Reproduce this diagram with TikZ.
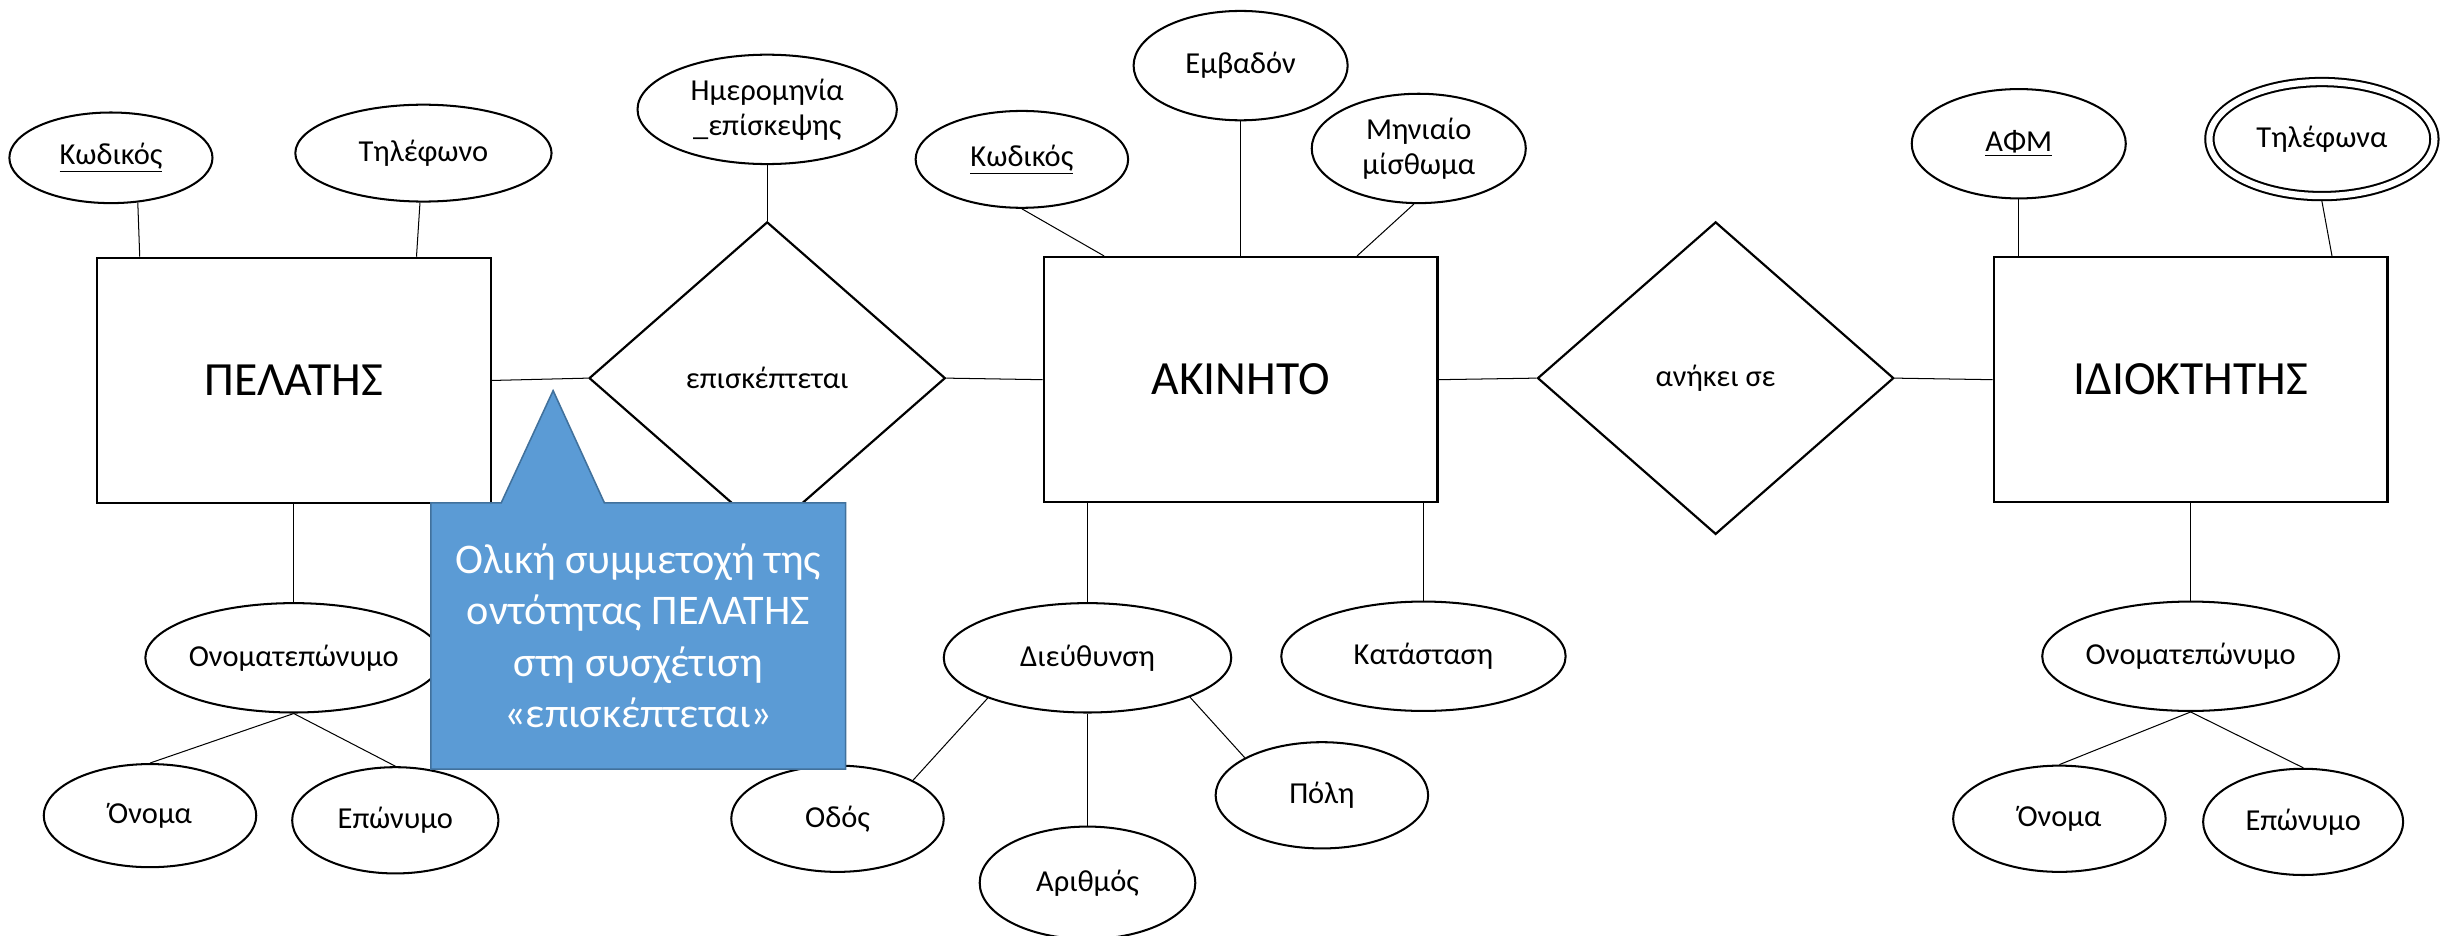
\documentclass[tikz,border=0pt]{standalone}
\usepackage{fontspec}
\setmainfont{Carlito}
\usetikzlibrary{shapes.geometric,calc}
\definecolor{notefill}{HTML}{5B9BD5}
\definecolor{noteline}{HTML}{41719C}
\begin{document}
\begin{tikzpicture}[x=1pt,y=-1pt,
  entity/.style={draw,line width=1.4pt,minimum width=252pt,minimum height=157pt,
    inner sep=0pt,font=\fontsize{30.5}{36}\selectfont},
  attr/.style={draw,ellipse,line width=1.3pt,inner sep=0pt,align=center,
    font=\fontsize{19.5}{22.5}\selectfont},
  rel/.style={draw,diamond,line width=1.4pt,minimum width=228pt,minimum height=200pt,
    inner sep=0pt,font=\fontsize{19.5}{22.5}\selectfont},
  link/.style={line width=0.65pt},
  notebox/.style={fill=notefill,draw=noteline,line width=1pt,line join=miter},
  notetext/.style={text=white,align=center,font=\fontsize{27}{33}\selectfont},
]
\useasboundingbox (0,0) rectangle (1568,599);

% ---------- entities ----------
\node[entity] (pel)  at (188,243.5)  {ΠΕΛΑΤΗΣ};
\node[entity] (akin) at (794,243)    {ΑΚΙΝΗΤΟ};
\node[entity] (idio) at (1402,243)   {ΙΔΙΟΚΤΗΤΗΣ};

% ---------- relationships ----------
\node[rel] (epi)  at (491,242)  {επισκέπτεται};
\node[rel] (anik) at (1098,242) {ανήκει σε};

% ---------- attributes of ΠΕΛΑΤΗΣ ----------
\node[attr,minimum width=130pt,minimum height=58pt] (kod1)  at (71,101)  {\underline{Κωδικός}};
\node[attr,minimum width=164pt,minimum height=62pt] (tel1)  at (271,98)  {Τηλέφωνο};
\node[attr,minimum width=184pt,minimum height=70pt] (onom1) at (188,421) {Ονοματεπώνυμο};
\node[attr,minimum width=136pt,minimum height=66pt] (ona1)  at (96,522)  {Όνομα};
\node[attr,minimum width=132pt,minimum height=68pt] (epo1)  at (253,525) {Επώνυμο};

% ---------- attribute of the relationship ----------
\node[attr,minimum width=166pt,minimum height=70pt] (hmer) at (491,70) {Ημερομηνία\\\_επίσκεψης};

% ---------- attributes of ΑΚΙΝΗΤΟ ----------
\node[attr,minimum width=136pt,minimum height=62pt] (kod2) at (654,102) {\underline{Κωδικός}};
\node[attr,minimum width=137pt,minimum height=70pt] (emb)  at (794,42)  {Εμβαδόν};
\node[attr,minimum width=137pt,minimum height=70pt] (mhn)  at (908,95)  {Μηνιαίο\\μίσθωμα};
\node[attr,minimum width=184pt,minimum height=70pt] (dieu) at (696,421) {Διεύθυνση};
\node[attr,minimum width=136pt,minimum height=68pt] (odos) at (536,524) {Οδός};
\node[attr,minimum width=138pt,minimum height=72pt] (arith) at (696,565) {Αριθμός};
\node[attr,minimum width=136pt,minimum height=68pt] (poli) at (846,509) {Πόλη};
\node[attr,minimum width=182pt,minimum height=70pt] (kat)  at (911,420) {Κατάσταση};

% ---------- attributes of ΙΔΙΟΚΤΗΤΗΣ ----------
\node[attr,minimum width=137pt,minimum height=70pt] (afm) at (1292,92) {\underline{ΑΦΜ}};
\node[attr,double,double distance=4pt,outer sep=3.2pt,minimum width=144pt,minimum height=73pt]
  (tilf) at (1486,89) {Τηλέφωνα};
\node[attr,minimum width=182pt,minimum height=70pt] (onom2) at (1402,420) {Ονοματεπώνυμο};
\node[attr,minimum width=136pt,minimum height=68pt] (ona2)  at (1318,524) {Όνομα};
\node[attr,minimum width=128pt,minimum height=68pt] (epo2)  at (1474,526) {Επώνυμο};

% ---------- connectors ----------
\draw[link] (kod1.-59) -- ($(pel.north west)!0.111!(pel.north east)$);
\draw[link] (tel1.-94) -- ($(pel.north west)!0.81!(pel.north east)$);
\draw[link] (pel.south) -- (onom1.north);
\draw[link] (onom1.south) -- (ona1.north);
\draw[link] (onom1.south) -- (epo1.north);
\draw[link] (pel.east) -- (epi.west);
\draw[link] (epi.east) -- (akin.west);
\draw[link] (epi.north) -- (hmer.south);

\draw[link] (kod2.south) -- ($(akin.north west)!0.155!(akin.north east)$);
\draw[link] (emb.south) -- (akin.north);
\draw[link] (mhn.-95) -- ($(akin.north west)!0.794!(akin.north east)$);
\draw[link] (dieu.north |- akin.south) -- (dieu.north);
\draw[link] (kat.north |- akin.south) -- (kat.north);
\draw[link] (dieu.-158) -- (odos.27);
\draw[link] (dieu.south) -- (arith.north);
\draw[link] (dieu.-21) -- (poli.154);

\draw[link] (akin.east) -- (anik.west);
\draw[link] (anik.east) -- (idio.west);
\draw[link] (afm.south) -- (afm.south |- idio.north);
\draw[link] (tilf.south) -- ($(idio.north west)!0.857!(idio.north east)$);
\draw[link] (idio.south) -- (onom2.north);
\draw[link] (onom2.south) -- (ona2.north);
\draw[link] (onom2.south) -- (epo2.north);

% ---------- note on total participation ----------
\node[minimum width=265pt,minimum height=170pt,inner sep=0pt] (note) at (408.5,407) {};
\coordinate (tip) at (354,250);
\draw[notebox] (note.north west) -- ($(note.north west)+(45,0)$) -- (tip)
  -- ($(note.north west)+(111,0)$) -- (note.north east) -- (note.south east)
  -- (note.south west) -- cycle;
\node[notetext] (notetxt) at (note.center)
  {Ολική συμμετοχή της\\οντότητας ΠΕΛΑΤΗΣ\\στη συσχέτιση\\«επισκέπτεται»};
\end{tikzpicture}
\end{document}
